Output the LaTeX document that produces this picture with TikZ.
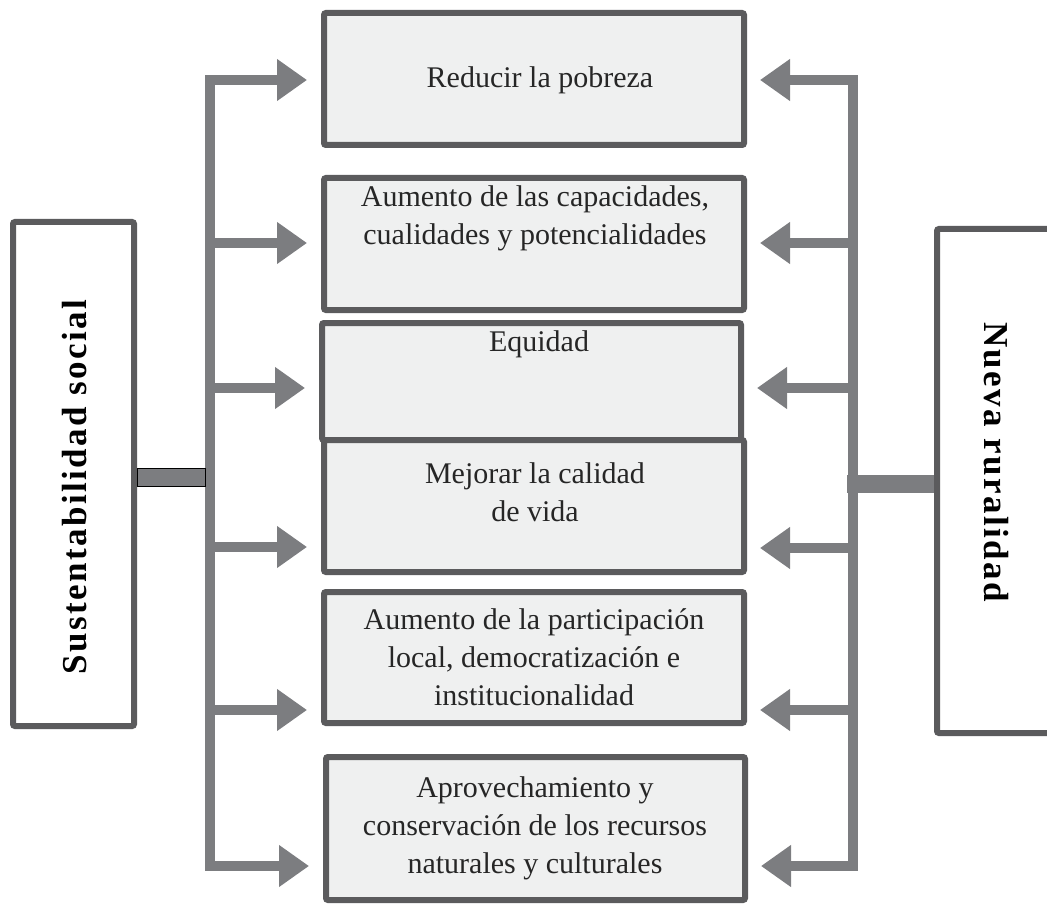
\documentclass[tikz,border=0pt]{standalone}
\usepackage{fontspec}
\setmainfont{Liberation Serif}
\usetikzlibrary{arrows.meta,positioning}
\definecolor{boxline}{HTML}{5B5B5D}
\definecolor{boxfill}{HTML}{EFF0F0}
\definecolor{busgray}{HTML}{7C7D80}
\tikzset{
  item/.style={draw=boxline,line width=6pt,fill=boxfill,rounded corners=2pt,
    minimum width=420pt,inner sep=0pt},
  side/.style={draw=boxline,line width=6pt,fill=white,rounded corners=2pt,
    inner sep=0pt,minimum height=504pt},
  txt/.style={align=center,inner sep=0pt,text=black!85,
    font=\fontsize{30}{38}\selectfont},
  bus/.style={draw=busgray,line width=10pt,line join=miter},
  arr/.style={bus,-{Triangle[length=30pt,width=40pt]}},
}
\begin{document}
\begin{tikzpicture}[x=1pt,y=-1pt]
\useasboundingbox (0,0) rectangle (1047,904);
% side boxes
\node[side,minimum width=121pt] (lbox) at (73.5,474) {};
\node[side,minimum width=124pt] (rbox) at (999,481) {};
\node[rotate=90,font=\bfseries\fontsize{35}{40}\selectfont] (ltxt) at (75,487)
  {\addfontfeature{LetterSpace=7}Sustentabilidad social};
\node[rotate=-90,font=\bfseries\fontsize{35}{40}\selectfont] (rtxt) at (996,462)
  {\addfontfeature{LetterSpace=7}Nueva ruralidad};
% middle boxes
\node[item,minimum height=132pt] (b1) at (534,79) {};
\node[item,minimum height=132pt] (b2) at (534,244) {};
\node[item,minimum height=117pt,minimum width=419pt] (b3) at (531.5,381.5) {};
\node[item,minimum height=132pt] (b4) at (534,506) {};
\node[item,minimum height=131pt] (b5) at (534,657.5) {};
\node[item,minimum height=143pt,minimum width=419pt] (b6) at (535.5,828.5) {};
\node[txt] (t1) at (540,80) {Reducir la pobreza};
\node[txt] (t2) at (535,218) {Aumento de las capacidades,\\cualidades y potencialidades};
\node[txt] (t3) at (539,344) {Equidad};
\node[txt] (t4) at (535,492) {Mejorar la calidad\\de vida};
\node[txt] (t5) at (534,657) {Aumento de la participación\\local, democratización e\\institucionalidad};
\node[txt] (t6) at (535,828) {Aprovechamiento y\\conservación de los recursos\\naturales y culturales};
% bus taps
\coordinate (l1) at (210,80);  \coordinate (r1) at (853,80);
\coordinate (l2) at (210,243); \coordinate (r2) at (853,243);
\coordinate (l3) at (210,388); \coordinate (r3) at (853,388);
\coordinate (l4) at (210,547); \coordinate (r4) at (853,548);
\coordinate (l5) at (210,710); \coordinate (r5) at (853,710);
\coordinate (l6) at (210,866); \coordinate (r6) at (853,866);
% left bus
\draw[bus,{Triangle[length=30pt,width=40pt]}-{Triangle[length=30pt,width=40pt]},
  shorten <=14pt,shorten >=14pt] (b1.west |- l1) -- (l1) -- (l6) -- (b6.west |- l6);
\foreach \i in {2,...,5}
  \draw[arr,shorten >=14pt] (l\i) -- (b\i.west |- l\i);
% right bus
\draw[bus,{Triangle[length=30pt,width=40pt]}-{Triangle[length=30pt,width=40pt]},
  shorten <=13pt,shorten >=13pt] (b1.east |- r1) -- (r1) -- (r6) -- (b6.east |- r6);
\foreach \i in {2,...,5}
  \draw[arr,shorten >=13pt] (r\i) -- (b\i.east |- r\i);
% stubs
\filldraw[fill=busgray,draw=black,line width=0.8pt] (lbox.east |- 0,468) rectangle (205,486);
\fill[busgray] (847,475) rectangle (rbox.west |- 0,493);
\end{tikzpicture}
\end{document}
